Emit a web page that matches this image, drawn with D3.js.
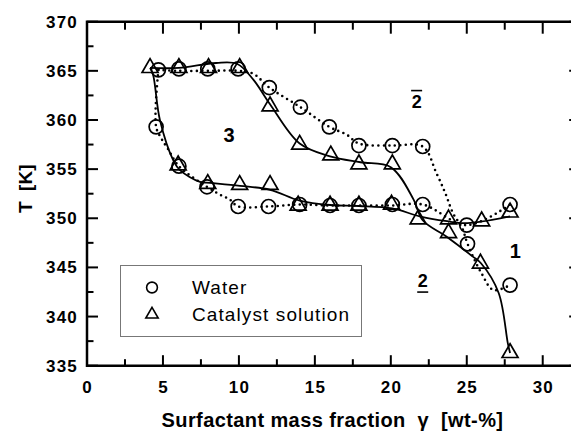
<!DOCTYPE html>
<html>
<head>
<meta charset="utf-8">
<script src="https://cdn.jsdelivr.net/npm/d3@7"></script>
<style>
  body { margin: 0; background: #fff; }
  text { font-family: "Liberation Sans", Arial, Helvetica, sans-serif; fill: #000; }
</style>
</head>
<body>
<div id="chart"></div>
<script>
'use strict';

const width = 571;
const height = 435;

// measured points [wt-%, K]
const waterPoints = [
	[4.7, 365.1], [6.05, 365.2], [7.95, 365.2], [9.95, 365.2], [12.0, 363.3],
	[14.05, 361.3], [15.95, 359.3], [17.9, 357.4], [20.1, 357.4], [22.1, 357.3],
	[4.55, 359.3], [6.05, 355.3], [7.9, 353.2], [9.95, 351.2], [11.95, 351.2],
	[14.0, 351.4], [16.0, 351.3], [17.9, 351.3], [20.1, 351.4], [22.1, 351.4],
	[25.0, 349.3], [25.05, 347.4], [27.85, 351.4], [27.85, 343.2]
];

const catalystPoints = [
	[4.15, 365.3], [6.05, 365.3], [8.0, 365.3], [10.05, 365.3], [12.05, 361.4],
	[14.0, 357.5], [16.05, 356.4], [17.9, 355.5], [20.1, 355.5],
	[6.0, 355.4], [7.95, 353.5], [10.05, 353.4], [12.05, 353.4], [13.9, 351.3],
	[16.0, 351.3], [17.9, 351.3], [20.05, 351.4], [21.8, 349.9], [23.8, 349.9],
	[25.98, 349.7], [27.85, 350.6],
	[23.8, 348.5], [25.9, 345.4], [27.85, 336.3]
];

// fitted boundary lines
const waterUpperLine = [
	[4.7, 365.1], [6.05, 365.0], [7.95, 365.0], [9.95, 365.0], [10.95, 364.7],
	[12.0, 363.3], [14.05, 361.3], [15.95, 359.3], [17.1, 358.5], [17.9, 357.6],
	[20.1, 357.4], [22.1, 357.3], [23.0, 354.6], [23.6, 352.5], [24.1, 350.5],
	[24.7, 349.0], [25.05, 347.4], [25.97, 344.4], [26.75, 342.7], [27.85, 343.2]
];

const waterLowerLine = [
	[4.7, 365.1], [4.55, 359.3], [4.9, 358.1], [5.35, 357.0], [6.05, 355.3],
	[7.9, 353.2], [8.76, 352.4], [9.4, 351.9], [9.95, 351.2], [11.95, 351.2],
	[14.0, 351.4], [16.0, 351.3], [17.9, 351.3], [20.1, 351.3], [22.1, 351.4],
	[25.0, 349.3], [27.85, 351.4]
];

const catalystUpperLine = [
	[4.15, 365.3], [6.05, 365.3], [8.5, 365.8], [9.9, 365.7], [10.95, 364.1],
	[12.05, 361.6], [14.0, 357.6], [16.0, 356.3], [18.0, 355.7], [20.0, 355.2],
	[21.5, 351.9], [22.1, 349.8], [23.7, 348.1], [25.4, 346.1], [25.95, 345.4],
	[27.1, 342.4], [27.7, 337.3], [27.85, 336.3]
];

const catalystLowerLine = [
	[4.15, 365.3], [4.35, 364.6], [4.8, 360.0], [5.68, 355.9], [6.12, 354.9],
	[7.44, 353.7], [8.1, 353.6], [10.07, 353.3], [12.05, 352.9], [14.0, 351.8],
	[16.0, 351.35], [17.9, 351.25], [20.1, 351.0], [21.9, 350.2], [23.7, 349.7],
	[24.8, 349.5], [25.9, 349.65], [27.85, 350.2]
];

const xMajorTicks = [0, 5, 10, 15, 20, 25, 30];
const xMinorTicks = [2.5, 7.5, 12.5, 17.5, 22.5, 27.5];
const yMajorTicks = [335, 340, 345, 350, 355, 360, 365, 370];
const yMinorTicks = [337.5, 342.5, 347.5, 352.5, 357.5, 362.5, 367.5];

// phase region labels: [x, T, text, mark]
const regionLabels = [
	[9.35, 357.8, '3', null],
	[21.7, 361.2, '2', 'over'],
	[28.2, 346.0, '1', null],
	[22.1, 343.0, '2', 'under']
];

const legendItems = ['Water', 'Catalyst solution'];

const x = d3.scaleLinear().domain([0, 32.5]).range([87, 580.7]);
const y = d3.scaleLinear().domain([335, 370]).range([365.7, 21.7]);

const svg = d3.select('#chart').append('svg')
	.attr('width', width)
	.attr('height', height);

// frame
svg.append('path')
	.attr('d', `M${x(32.5)},${y(370)}H${x(0)}V${y(335)}H${x(32.5)}`)
	.attr('fill', 'none')
	.attr('stroke', '#000')
	.attr('stroke-width', 2.5);

// ticks, all pointing inward
const xTicks = xMajorTicks.map(v => [v, 10.5]).concat(xMinorTicks.map(v => [v, 6.5]));
const yTicks = yMajorTicks.map(v => [v, 11]).concat(yMinorTicks.map(v => [v, 6.5]));

const tickSegs = [];
xTicks.forEach(([v, len]) => {
	tickSegs.push([x(v), y(335), x(v), y(335) - len]);
	if (v > 0) tickSegs.push([x(v), y(370), x(v), y(370) + len + 1.5]);
});
yTicks.forEach(([v, len]) => {
	tickSegs.push([x(0), y(v), x(0) + len, y(v)]);
});
yMajorTicks.forEach(v => {
	tickSegs.push([x(32.5), y(v), x(32.5) - 11.5, y(v)]);
});

svg.append('g')
	.selectAll('line')
	.data(tickSegs)
	.enter().append('line')
	.attr('x1', d => d[0]).attr('y1', d => d[1])
	.attr('x2', d => d[2]).attr('y2', d => d[3])
	.attr('stroke', '#000')
	.attr('stroke-width', 2);

// tick labels
svg.append('g')
	.selectAll('text')
	.data(xMajorTicks)
	.enter().append('text')
	.attr('x', d => x(d) + 0.6)
	.attr('y', 393.3)
	.attr('text-anchor', 'middle')
	.style('font-size', '17px')
	.style('font-weight', 'bold')
	.style('letter-spacing', '1.2px')
	.text(d3.format('d'));

svg.append('g')
	.selectAll('text')
	.data(yMajorTicks)
	.enter().append('text')
	.attr('x', 78)
	.attr('y', d => y(d))
	.attr('dy', '0.35em')
	.attr('text-anchor', 'end')
	.style('font-size', '17px')
	.style('font-weight', 'bold')
	.style('letter-spacing', '1.2px')
	.text(d3.format('d'));

// axis titles
svg.append('text')
	.attr('x', 332.5)
	.attr('y', 427.3)
	.attr('text-anchor', 'middle')
	.style('font-size', '20px')
	.style('font-weight', 'bold')
	.style('white-space', 'pre')
	.style('letter-spacing', '0.4px')
	.text('Surfactant mass fraction  \u03b3  [wt-%]');

svg.append('text')
	.attr('transform', `translate(31.5,${y(353)}) rotate(-90)`)
	.attr('text-anchor', 'middle')
	.style('font-size', '19px')
	.style('font-weight', 'bold')
	.style('white-space', 'pre')
	.text('T  [K]');

// curves
const line = d3.line()
	.x(d => x(d[0]))
	.y(d => y(d[1]))
	.curve(d3.curveCatmullRom.alpha(0.5));

[waterUpperLine, waterLowerLine].forEach(pts => {
	svg.append('path')
		.attr('d', line(pts))
		.attr('fill', 'none')
		.attr('stroke', '#000')
		.attr('stroke-width', 2.6)
		.attr('stroke-linecap', 'round')
		.attr('stroke-dasharray', '0,5.5');
});

[catalystUpperLine, catalystLowerLine].forEach(pts => {
	svg.append('path')
		.attr('d', line(pts))
		.attr('fill', 'none')
		.attr('stroke', '#000')
		.attr('stroke-width', 1.8);
});

// markers
svg.append('g')
	.selectAll('circle')
	.data(waterPoints)
	.enter().append('circle')
	.attr('cx', d => x(d[0]))
	.attr('cy', d => y(d[1]))
	.attr('r', 7)
	.attr('fill', 'none')
	.attr('stroke', '#000')
	.attr('stroke-width', 1.7);

const tri = d3.symbol().type(d3.symbolTriangle).size(110);
svg.append('g')
	.selectAll('path')
	.data(catalystPoints)
	.enter().append('path')
	.attr('d', tri)
	.attr('transform', d => `translate(${x(d[0])},${y(d[1])})`)
	.attr('fill', 'none')
	.attr('stroke', '#000')
	.attr('stroke-width', 1.7);

// region labels
regionLabels.forEach(([lx, ly, txt, mark]) => {
	svg.append('text')
		.attr('x', x(lx))
		.attr('y', y(ly))
		.attr('text-anchor', 'middle')
		.style('font-size', mark ? '18px' : '20px')
		.style('font-weight', 'bold')
		.text(txt);
	if (mark) {
		const yy = mark === 'over' ? y(ly) - 17.6 : y(ly) + 5;
		svg.append('line')
			.attr('x1', x(lx) - 5.5).attr('x2', x(lx) + 5.5)
			.attr('y1', yy).attr('y2', yy)
			.attr('stroke', '#000')
			.attr('stroke-width', 1.6);
	}
});

// legend
const legend = svg.append('g');
legend.append('rect')
	.attr('x', 120.5).attr('y', 265.5)
	.attr('width', 241).attr('height', 71)
	.attr('fill', '#fff')
	.attr('stroke', '#777')
	.attr('stroke-width', 1);

legend.append('circle')
	.attr('cx', 152).attr('cy', 287.5).attr('r', 5.4)
	.attr('fill', 'none').attr('stroke', '#000').attr('stroke-width', 1.6);
legend.append('path')
	.attr('d', d3.symbol().type(d3.symbolTriangle).size(66)())
	.attr('transform', 'translate(152,314.5)')
	.attr('fill', 'none').attr('stroke', '#000').attr('stroke-width', 1.6);

legend.selectAll('text.item')
	.data(legendItems)
	.enter().append('text')
	.attr('class', 'item')
	.attr('x', 192)
	.attr('y', (d, i) => 294 + i * 27)
	.style('font-size', '19px')
	.style('letter-spacing', '1.1px')
	.text(d => d);
</script>
</body>
</html>
